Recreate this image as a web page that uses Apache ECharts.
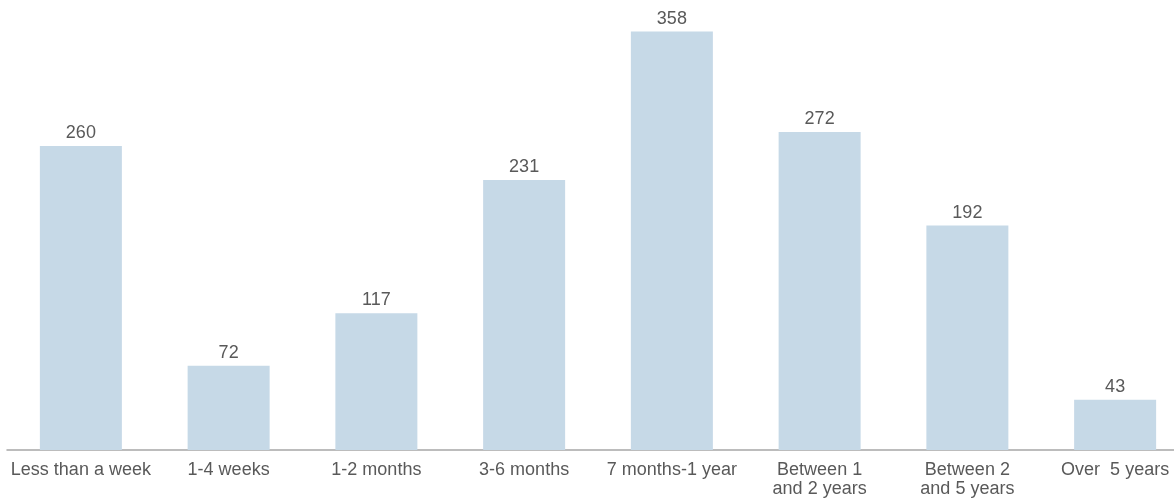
<!DOCTYPE html>
<html><head><meta charset="utf-8">
<script src="https://cdn.jsdelivr.net/npm/echarts@6/dist/echarts.min.js"></script>
<style>html,body{margin:0;padding:0;background:#fff}#c{width:1174px;height:501px}</style>
</head><body><div id="c"></div>
<script>
const categories = ["Less than a week","1-4 weeks","1-2 months","3-6 months","7 months-1 year","Between 1\nand 2 years","Between 2\nand 5 years","Over  5 years"];
const values = [260,72,117,231,358,272,192,43];
const chart = echarts.init(document.getElementById('c'));
chart.setOption({
  animation:false,
  grid:{left:7,top:0,right:-15,bottom:51,containLabel:false,outerBoundsMode:'none'},
  xAxis:{type:'category',data:categories,
    axisLine:{lineStyle:{color:'#a6a6a6',width:1.5}},axisTick:{show:false},
    axisLabel:{color:'#595959',fontSize:18,fontFamily:'Liberation Sans, Arial',interval:0,margin:11,lineHeight:19}},
  yAxis:{type:'value',min:0,max:385,show:false,splitLine:{show:false}},
  series:[{type:'bar',data:values,barWidth:'55.5%',itemStyle:{color:'#c6d9e7'},
    label:{show:true,position:'top',color:'#595959',fontSize:18,fontFamily:'Liberation Sans, Arial',distance:4}}]
});
</script></body></html>
